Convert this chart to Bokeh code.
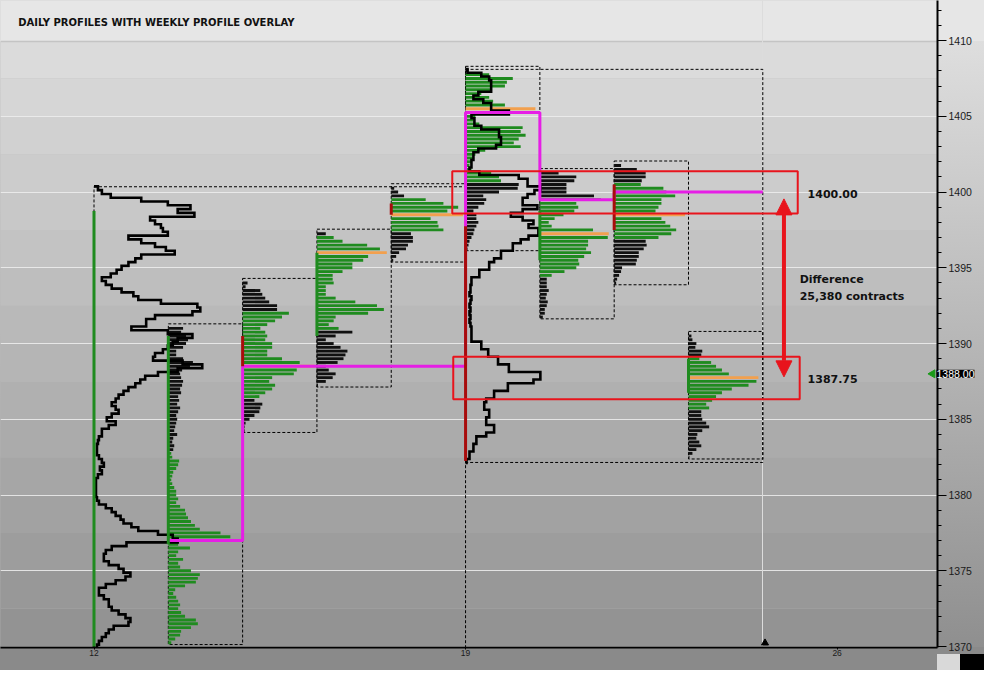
import numpy as np
from bokeh.plotting import figure
from bokeh.models import FixedTicker, Range1d, Label, Arrow, NormalHead, InlineStyleSheet
from bokeh.core.properties import value
from bokeh.embed import file_html
from bokeh.resources import INLINE

TICK = 0.25  # price increment of one profile row

# ---------------- data ----------------
# weekly profiles (volume per 0.25 price row, from the top row downwards)
week_x = [0, 5]
week_top = [1400.25, 1408.0]
week1_vol = [4, 8, 17, 48, 75, 98, 85, 102, 57, 62,
             68, 70, 75, 35, 48, 62, 73, 82, 48, 42,
             35, 28, 23, 17, 8, 12, 18, 28, 40, 45,
             68, 105, 108, 100, 62, 53, 53, 38, 75, 100,
             85, 80, 75, 70, 62, 60, 90, 110, 85, 65,
             52, 47, 42, 35, 30, 25, 22, 18, 22, 25,
             18, 13, 22, 15, 8, 8, 5, 4, 3, 3,
             3, 5, 8, 10, 6, 8, 4, 2, 2, 2,
             2, 2, 3, 5, 12, 18, 22, 27, 30, 38,
             45, 65, 80, 85, 33, 18, 12, 10, 10, 15,
             25, 30, 37, 32, 22, 12, 5, 5, 10, 15,
             15, 18, 25, 32, 37, 35, 20, 15, 12, 8,
             5, 3]
week2_vol = [2, 16, 24, 26, 26, 26, 13, 8, 18, 26,
             26, 44, 6, 9, 9, 16, 34, 34, 36, 36,
             31, 13, 8, 8, 6, 6, 4, 14, 54, 63,
             63, 76, 70, 63, 58, 58, 73, 58, 46, 58,
             69, 64, 74, 74, 64, 56, 48, 48, 36, 36,
             29, 24, 24, 14, 14, 6, 6, 5, 5, 4,
             6, 5, 4, 5, 4, 5, 4, 5, 6, 6,
             6, 6, 16, 16, 23, 23, 33, 33, 44, 44,
             76, 76, 69, 43, 43, 29, 29, 21, 19, 19,
             24, 24, 21, 21, 29, 29, 21, 11, 11, 8,
             8, 4, 4, 1]

# daily profiles
day_x = [1, 2, 3, 4, 5, 6, 7, 8]
day_top = [1391.0, 1394.0, 1397.25, 1400.25, 1408.0, 1401.25, 1401.75, 1390.5]
day_va_high = [1382.75, 1392.0, 1397.0, 1399.5, 1407.75, 1399.5, 1400.5, 1389.0]
day_va_low = [1370.25, 1386.5, 1391.0, 1397.5, 1400.75, 1394.5, 1397.0, 1385.75]
day1_vol = [15, 13, 18, 20, 18, 15, 8, 8, 15, 25,
            22, 14, 12, 13, 15, 14, 12, 13, 10, 11,
            9, 12, 10, 8, 9, 8, 7, 6, 9, 5,
            4, 6, 5, 3, 4, 11, 10, 8, 5, 4,
            3, 4, 6, 8, 8, 10, 8, 12, 17, 18,
            20, 23, 27, 32, 53, 63, 72, 10, 22, 10,
            8, 15, 10, 12, 23, 32, 30, 28, 17, 7,
            5, 8, 10, 12, 10, 13, 17, 28, 30, 23,
            13, 12, 7, 3]
day2_vol = [5, 3, 18, 20, 23, 27, 35, 35, 47, 40,
            33, 25, 18, 23, 25, 23, 30, 30, 25, 25,
            40, 58, 73, 55, 52, 30, 27, 33, 30, 23,
            17, 12, 20, 18, 17, 12, 7, 3, 2, 2]
day3_vol = [9, 17, 26, 51, 64, 71, 52, 47, 36, 36,
            26, 16, 16, 17, 9, 9, 9, 19, 39, 61,
            68, 52, 19, 17, 12, 22, 36, 19, 9, 17,
            24, 31, 29, 27, 21, 9, 12, 19, 16, 9,
            1]
day4_vol = [3, 7, 13, 35, 53, 68, 57, 73, 40, 47,
            48, 53, 20, 22, 22, 17, 15, 8, 5, 2]
day5_vol = [3, 24, 48, 42, 40, 26, 16, 24, 28, 40,
            71, 12, 10, 8, 14, 58, 56, 61, 54, 49,
            56, 20, 10, 8, 6, 4, 6, 26, 34, 36,
            54, 53, 34, 18, 21, 19, 13, 8, 11, 11,
            13, 11, 9, 8, 6, 4, 3, 2]
day6_vol = [19, 37, 35, 27, 27, 27, 55, 62, 37, 39,
            35, 24, 15, 9, 12, 54, 70, 69, 49, 49,
            47, 52, 45, 39, 40, 37, 25, 12, 7, 7,
            7, 9, 7, 6, 8, 7, 5, 5, 3]
day7_vol = [7, 23, 32, 32, 28, 27, 50, 53, 62, 48,
            48, 45, 42, 72, 48, 52, 57, 63, 58, 45,
            32, 33, 30, 25, 25, 23, 22, 8, 7, 5,
            3, 2]
day8_vol = [3, 4, 8, 7, 14, 13, 11, 23, 28, 34,
            41, 71, 69, 61, 44, 34, 28, 24, 18, 21,
            13, 13, 14, 18, 21, 14, 9, 8, 11, 13,
            8, 4, 1]
day_vols = [day1_vol, day2_vol, day3_vol, day4_vol, day5_vol, day6_vol, day7_vol, day8_vol]

# opening-range markers at the base of each profile
ib_x = [0, 1, 2, 3, 4, 5, 6, 7, 8]
ib_high = [1398.75, 1390.5, 1390.5, 1396.0, 1399.25, 1397.75, 1398.75, 1400.5, 1389.0]
ib_low = [1369.9, 1376.75, 1388.5, 1390.5, 1398.5, 1382.25, 1395.5, 1397.5, 1386.75]
ib_up = [True, True, False, True, False, False, True, False, True]

# developing weekly point of control
dev_poc_x = [1, 2, 2, 5, 5, 6, 6, 7, 7, 9]
dev_poc_price = [1377.0, 1377.0, 1388.5, 1388.5, 1405.25, 1405.25, 1399.5, 1399.5, 1400.0, 1400.0]

marked_levels = [1400.00, 1387.75]
marked_labels = ["1400.00", "1387.75"]
note_lines = ["Difference", "25,380 contracts"]
title = "DAILY PROFILES WITH WEEKLY PROFILE OVERLAY"
date_ticks = [0, 5, 10]
date_labels = ["12", "19", "26"]
price_ticks = list(range(1370, 1411, 5))
last_price = 1388.00
now_x = 9

# ---------------- styles / geometry ----------------
# reference-pixel scale used to place annotations (converted to data units)
PX_DAY = 75.5
PX_PT = 15.5
VOL_PER_DAY = 75.5
GREEN = "#1f8b1f"
BLACK = "#101010"
ORANGE = "#f2a04e"
MAGENTA = "#e61ee6"
RED = "#e8141c"
DARKRED = "#a80c0c"


def dx_of(px):
    return (px - 95) / PX_DAY


def py_of(py):
    return 1400 + (196 - py) / PX_PT


x0, x1 = dx_of(0), dx_of(952)
y0, y1 = py_of(662), py_of(0)

FIG_W, FIG_H = 984, 670
FRAME_W, FRAME_H = 937, 647

css = (":host { background: "
       "linear-gradient(to right, #d9d9d9 0px, #d9d9d9 23px, #000000 23px, #000000 100%) "
       "right bottom / 47px 16px no-repeat, "
       "linear-gradient(to bottom, #e6e6e6 0px, #e6e6e6 41px, "
       "#dedede 41px, #8f8f8f 647px, #8a8a8a 647px, #8a8a8a 100%); }")

p = figure(width=FIG_W, height=FIG_H, output_backend="svg", toolbar_location=None,
           x_range=Range1d(x0, x1), y_range=Range1d(y0, y1),
           y_axis_location="right", min_border_left=0, min_border_top=0,
           min_border_right=FIG_W - FRAME_W, min_border_bottom=FIG_H - FRAME_H)
p.stylesheets = [InlineStyleSheet(css=css)]
p.border_fill_alpha = 0
p.outline_line_color = None
p.xgrid.visible = False
p.ygrid.visible = False
p.background_fill_color = "#b8b8b8"

# background bands (2.5 point steps, darker towards the bottom)
edges = np.arange(1367.5, 1415.0 + 0.01, 2.5)
bot, top = edges[:-1], edges[1:]
t = np.clip(((bot + top) / 2 - 1368.75) / (1411.25 - 1368.75), 0, 1)
g = (143 + t * (224 - 143)).astype(int)
band_cols = ["#%02x%02x%02x" % (v, v, v) for v in g]
p.quad(left=x0 - 1, right=x1 + 1, bottom=bot, top=top, fill_color=band_cols, line_color=None)
p.hspan(y=price_ticks, line_color="#eeeeee", line_width=1.2, line_alpha=0.85)

# title band
title_bottom = py_of(42)
p.quad(left=x0 - 1, right=x1 + 1, bottom=title_bottom, top=y1 + 1, fill_color="#e6e6e6", line_color=None)
p.hspan(y=[title_bottom], line_color="#c4c4c4", line_width=1.5)

# current-time line
p.vspan(x=[now_x], line_color="#dcdcdc", line_width=1)
p.scatter(x=[now_x + 0.03], y=[y0 + 0.3], marker="triangle", size=7, color="black")


def rows(top_price, n):
    return top_price - TICK * np.arange(n)


# dashed range boxes
bx_l, bx_r, bx_b, bx_t = [], [], [], []
for wx, wt, wv in zip(week_x, week_top, [week1_vol, week2_vol]):
    pr = rows(wt, len(wv))
    bx_l.append(wx); bx_r.append(wx + 5 if wx == 0 else now_x)
    bx_t.append(pr[0] + 0.1); bx_b.append(pr[-1] - 0.1)
for dx, dt, dv in zip(day_x, day_top, day_vols):
    pr = rows(dt, len(dv))
    bx_l.append(dx); bx_r.append(dx + 1)
    bx_t.append(pr[0] + 0.3); bx_b.append(pr[-1] - 0.12)
p.quad(left=bx_l, right=bx_r, bottom=bx_b, top=bx_t, fill_alpha=0,
       line_color="black", line_width=1, line_dash="3 2")

# daily profile bars
ys, lefts, rights, cols = [], [], [], []
for dx, dt, dv, vh, vl in zip(day_x, day_top, day_vols, day_va_high, day_va_low):
    v = np.array(dv, dtype=float)
    pr = rows(dt, len(v))
    poc = pr[np.argmax(v)]
    for price, vol in zip(pr, v):
        ys.append(price)
        lefts.append(dx)
        rights.append(dx + vol / VOL_PER_DAY)
        if price == poc:
            cols.append(ORANGE)
        elif vl <= price <= vh:
            cols.append(GREEN)
        else:
            cols.append(BLACK)
p.hbar(y=ys, left=lefts, right=rights, height=0.19, fill_color=cols, line_color=None)

# weekly profile outlines
for wx, wt, wv in zip(week_x, week_top, [week1_vol, week2_vol]):
    pr = rows(wt, len(wv))
    xs, yy = [wx], [pr[0] + TICK / 2]
    for price, vol in zip(pr, wv):
        xs += [wx + vol / VOL_PER_DAY] * 2
        yy += [price + TICK / 2, price - TICK / 2]
    xs.append(wx)
    yy.append(pr[-1] - TICK / 2)
    p.line(xs, yy, line_color="black", line_width=2.6, line_join="miter")

# developing POC path
p.line(dev_poc_x, dev_poc_price, line_color=MAGENTA, line_width=3)

# opening range markers
p.segment(x0=ib_x, x1=ib_x, y0=ib_low, y1=ib_high,
          line_color=[GREEN if u else DARKRED for u in ib_up], line_width=3)

# highlighted levels
p.quad(left=[dx_of(459), dx_of(460)], right=[dx_of(810), dx_of(812)],
       bottom=[lv - 1.42 for lv in marked_levels], top=[lv + 1.38 for lv in marked_levels],
       fill_alpha=0, line_color=RED, line_width=2)
ax = dx_of(796)
p.add_layout(Arrow(x_start=ax, y_start=marked_levels[1] + 0.05, x_end=ax, y_end=marked_levels[0] - 0.45,
                   line_color=RED, line_width=4,
                   start=NormalHead(size=16, fill_color=RED, line_color=RED),
                   end=NormalHead(size=16, fill_color=RED, line_color=RED)))

txt_font = value("DejaVu Sans")
p.text(x=[dx_of(820)] * 2, y=[lv - 0.1 for lv in marked_levels], text=marked_labels,
       text_font=txt_font, text_font_style="bold", text_font_size="11px",
       text_baseline="middle", text_align="left", text_color="#111111")
p.text(x=[dx_of(812)] * 2, y=[py_of(285), py_of(303)],
       text=note_lines, text_font=txt_font, text_font_style="bold", text_font_size="11px",
       text_baseline="middle", text_align="left", text_color="#111111")
p.text(x=[dx_of(18)], y=[py_of(22)], text=[title],
       text_font=txt_font, text_font_style="bold", text_font_size="10px",
       text_baseline="middle", text_align="left", text_color="#111111")

# last price marker (label lives in a side panel so it is not clipped by the frame)
p.scatter(x=[dx_of(947)], y=[last_price], marker="triangle", angle=np.pi / 2,
          size=8, color="#1a9a1a")
p.add_layout(Label(x=dx_of(951), y=last_price, text="%.2f" % last_price,
                   text_color="white", background_fill_color="black",
                   text_font="Liberation Sans", text_font_size="10.5px",
                   text_baseline="middle", text_align="left"), "below")

# axes
ya = p.yaxis[0]
ya.ticker = FixedTicker(ticks=price_ticks, minor_ticks=list(range(1370, 1413)))
ya.major_tick_out = 9
ya.major_tick_in = 0
ya.minor_tick_out = 4
ya.minor_tick_in = 0
ya.axis_line_width = 2
ya.axis_line_color = "black"
ya.major_tick_line_color = "black"
ya.minor_tick_line_color = "black"
ya.major_label_standoff = 2
ya.major_label_text_font = "Liberation Sans"
ya.major_label_text_font_size = "10.5px"
ya.major_label_text_color = "#1a1a1a"

xa = p.xaxis[0]
xa.ticker = FixedTicker(ticks=date_ticks)
xa.major_label_overrides = {k: v for k, v in zip(date_ticks, date_labels)}
xa.major_tick_out = 2
xa.major_tick_in = 0
xa.minor_tick_line_color = None
xa.axis_line_width = 2
xa.axis_line_color = "black"
xa.major_label_standoff = 0
xa.major_label_text_font = "Liberation Sans"
xa.major_label_text_font_size = "8.5px"
xa.major_label_text_color = "#1a1a1a"
xa.major_label_text_align = "left"

open("out.html", "w").write(file_html(p, INLINE))
